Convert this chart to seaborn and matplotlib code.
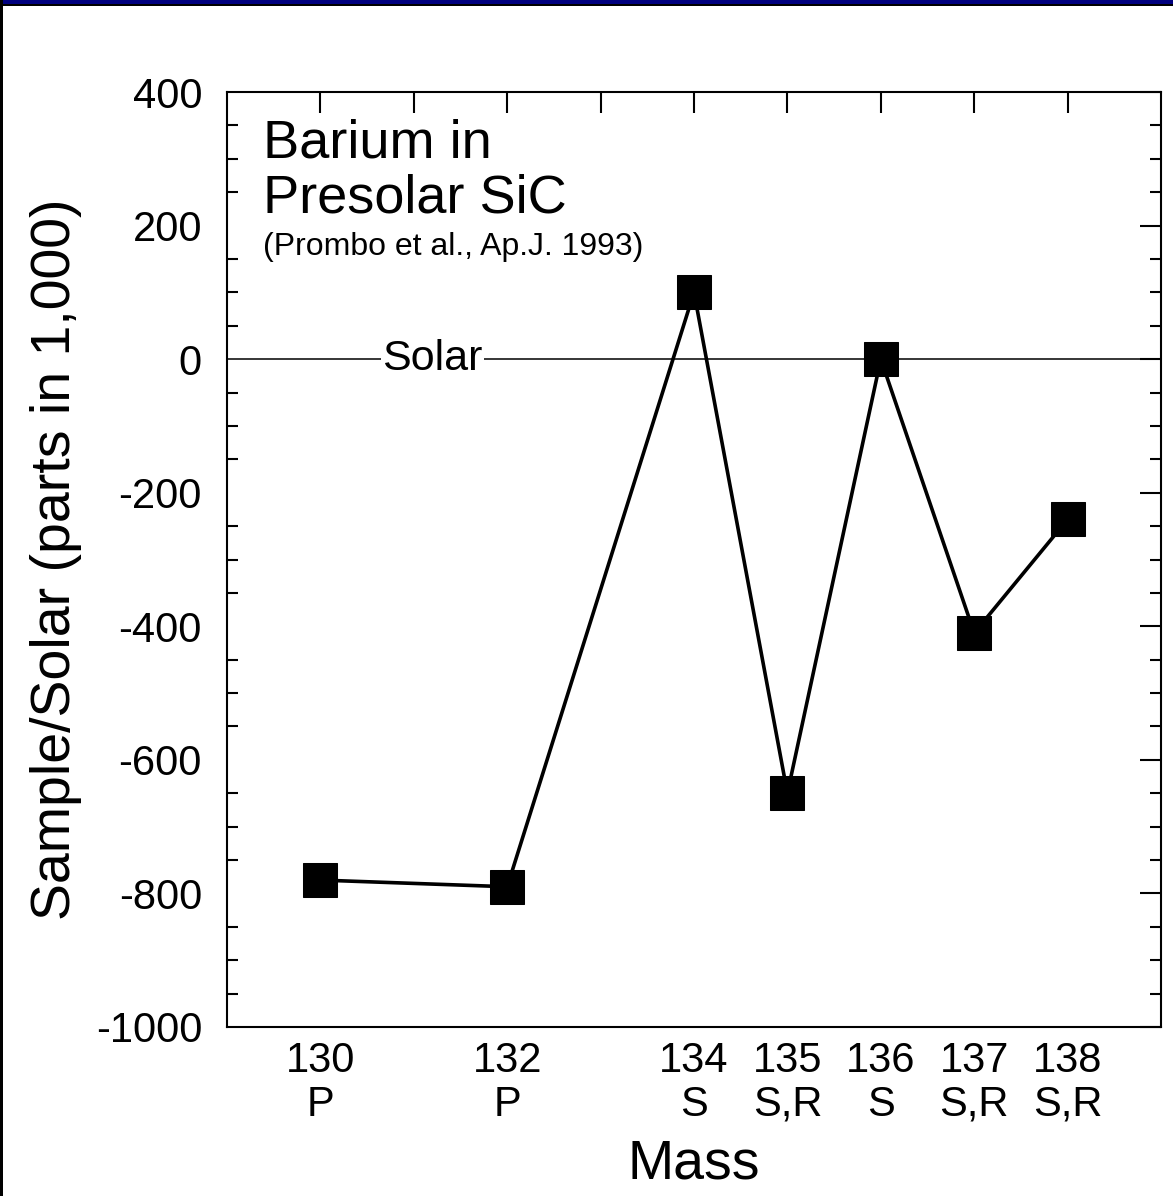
import matplotlib
matplotlib.use("Agg")
import matplotlib.pyplot as plt
import seaborn as sns
import pandas as pd
from matplotlib.ticker import MultipleLocator, FixedLocator
from matplotlib.patches import Rectangle

mass = [130, 132, 134, 135, 136, 137, 138]
process = ["P", "P", "S", "S,R", "S", "S,R", "S,R"]
delta = [-780, -790, 100, -650, 0, -410, -240]

df = pd.DataFrame({"Mass": mass, "Delta": delta})

sns.set_theme(style="white")
plt.rcParams["font.family"] = ["Liberation Sans", "DejaVu Sans"]
plt.rcParams["text.color"] = "black"
plt.rcParams["axes.labelcolor"] = "black"
plt.rcParams["xtick.color"] = "black"
plt.rcParams["ytick.color"] = "black"

fig = plt.figure(figsize=(11.73, 11.96), dpi=100)
ax = fig.add_axes([227 / 1173, 1 - 1027 / 1196, (1161 - 227) / 1173, (1027 - 92) / 1196])

# Solar reference line
ax.axhline(0, color="black", lw=1.1, zorder=1)
ax.text(131.2, 0, "Solar", fontsize=31, ha="center", va="center",
        bbox=dict(facecolor="white", edgecolor="none", pad=1), zorder=2)

sns.lineplot(data=df, x="Mass", y="Delta", ax=ax, color="black", lw=2.6,
             marker="s", markersize=25, markeredgecolor="black",
             markerfacecolor="black", zorder=3)

ax.set_xlim(129, 139)
ax.set_ylim(-1000, 400)
ax.xaxis.set_major_locator(FixedLocator(list(range(130, 139))))
lab_map = {m: f"{m}\n{p}" for m, p in zip(mass, process)}
xt_labels = [lab_map.get(t, "") for t in range(130, 139)]
ax.set_xticklabels(xt_labels, fontsize=30, linespacing=1.12)
ax.yaxis.set_minor_locator(MultipleLocator(50))
ax.set_yticks(range(-1000, 401, 200))
ax.set_yticklabels([str(v) for v in range(-1000, 401, 200)], fontsize=30)
for lbl in ax.get_yticklabels():
    lbl.set_va("center_baseline")

ax.tick_params(axis="both", which="major", direction="in", length=15, width=1.5,
               top=True, right=True, color="black")
ax.tick_params(axis="y", which="minor", direction="in", length=8, width=1.5,
               left=True, right=True, color="black")
ax.tick_params(axis="y", which="major", pad=18)
ax.tick_params(axis="x", which="major", pad=10)
for s in ax.spines.values():
    s.set_color("black")
    s.set_linewidth(1.5)
    s.set_visible(True)

ax.set_xlabel("Mass", fontsize=40, labelpad=10)
ax.set_ylabel("Sample/Solar (parts in 1,000)", fontsize=40, labelpad=10)

ax.text(0.0385, 0.972, "Barium in\nPresolar SiC", transform=ax.transAxes,
        fontsize=39, ha="left", va="top", linespacing=1.13)
ax.text(0.0385, 0.834, "(Prombo et al., Ap.J. 1993)", transform=ax.transAxes,
        fontsize=23, ha="left", va="center")

# slide frame: navy band on top, black strip on left
fig.patches.append(Rectangle((0, 1 - 3.5 / 1196), 1, 3.5 / 1196, transform=fig.transFigure,
                             facecolor="#00007f", edgecolor="none", zorder=10))
fig.patches.append(Rectangle((0, 1 - 5.5 / 1196), 1, 2 / 1196, transform=fig.transFigure,
                             facecolor="black", edgecolor="none", zorder=10))
fig.patches.append(Rectangle((0, 0), 2.5 / 1173, 1, transform=fig.transFigure,
                             facecolor="black", edgecolor="none", zorder=10))

fig.savefig("out.png", dpi=100)
